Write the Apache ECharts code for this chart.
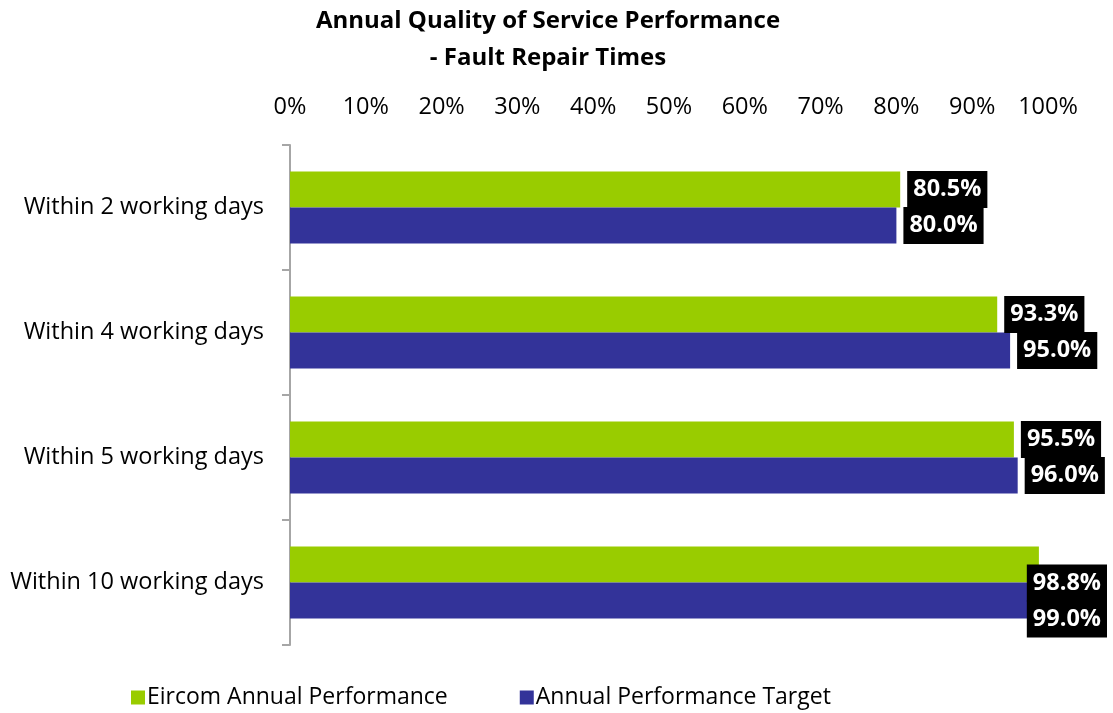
<!DOCTYPE html>
<html><head><meta charset="utf-8">
<script src="https://cdn.jsdelivr.net/npm/echarts@6/dist/echarts.min.js"></script>
<style>html,body{margin:0;padding:0;background:#fff}#c{width:1113px;height:713px}</style>
</head><body><div id="c"></div>
<script>
const categories = ["Within 2 working days","Within 4 working days","Within 5 working days","Within 10 working days"];
const eircomPerformance = [80.5, 93.3, 95.5, 98.8];
const performanceTarget = [80.0, 95.0, 96.0, 99.0];
const seriesNames = ["Eircom Annual Performance","Annual Performance Target"];
const FONT = "'Open Sans', Lato, sans-serif";
const chart = echarts.init(document.getElementById('c'));
const W = 1113;
const labelCfg = {
  show: true, position: 'right', distance: 7,
  formatter: p => p.value.toFixed(1) + '%',
  color: '#fff', backgroundColor: '#000', fontWeight: 'bold',
  fontSize: 23.5, lineHeight: 28, fontFamily: FONT, padding: [5, 6, 4, 6]
};
chart.setOption({
  animation: false,
  title: {
    text: 'Annual Quality of Service Performance\n- Fault Repair Times',
    left: 548, top: 3, padding: 0, textAlign: 'center',
    textStyle: {fontSize: 24, fontWeight: 'bold', fontFamily: FONT, color: '#000', lineHeight: 37}
  },
  legend: {
    bottom: -1, left: 126, itemGap: 72, itemWidth: 14, itemHeight: 14,
    icon: 'rect',
    textStyle: {fontSize: 23, fontFamily: FONT, color: '#000', padding: [0,0,0,-3]},
    data: seriesNames
  },
  grid: {left: 290, right: 65, top: 145, bottom: 68, containLabel: false},
  xAxis: {
    type: 'value', position: 'top', min: 0, max: 100, interval: 10,
    axisLabel: {formatter: '{value}%', fontSize: 23.5, fontFamily: FONT, color: '#000', margin: 26},
    axisLine: {show: false}, axisTick: {show: false}, splitLine: {show: false}
  },
  yAxis: {
    type: 'category', data: categories, inverse: true,
    axisLine: {show: true, lineStyle: {color: '#a6a6a6', width: 2}},
    axisTick: {show: true, length: 8, lineStyle: {color: '#a6a6a6', width: 2}},
    axisLabel: {fontSize: 23.5, fontFamily: FONT, color: '#000', margin: 26}
  },
  labelLayout: function (params) {
    const r = params.labelRect;
    const maxRight = W - 6;
    if (r.x + r.width > maxRight) {
      return {x: maxRight - r.width};
    }
    return {};
  },
  series: [
    {name: seriesNames[0], type: 'bar', data: eircomPerformance, barWidth: 36, barGap: '0%',
     itemStyle: {color: '#99cc00'}, label: labelCfg, z: 3},
    {name: seriesNames[1], type: 'bar', data: performanceTarget, barWidth: 36, barGap: '0%',
     itemStyle: {color: '#333399'}, label: labelCfg, z: 3}
  ]
});
</script></body></html>
